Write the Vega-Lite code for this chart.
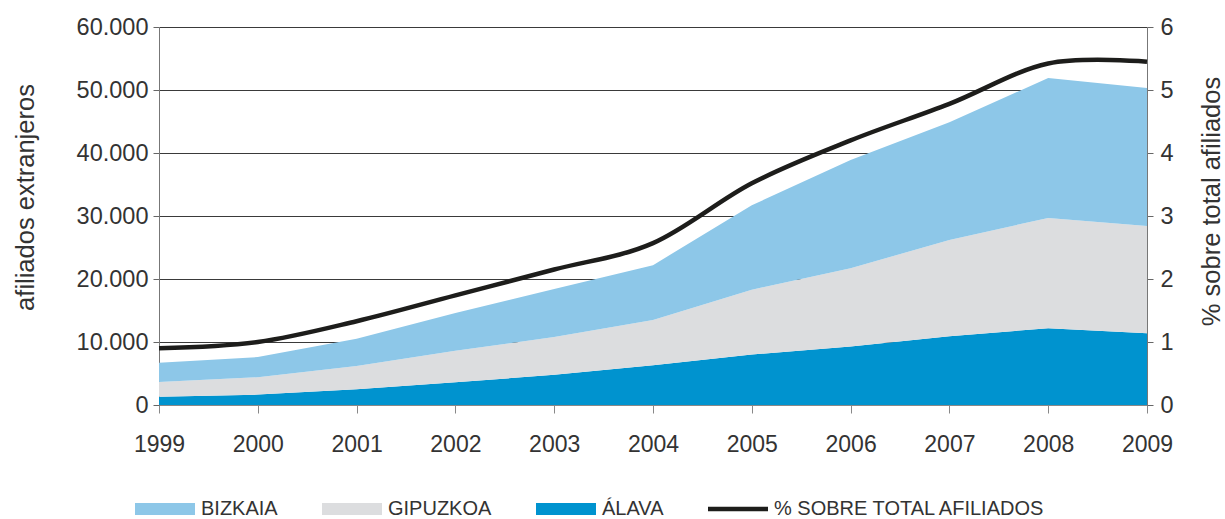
{
  "$schema": "https://vega.github.io/schema/vega-lite/v6.json",
  "width": 988,
  "height": 378,
  "autosize": "none",
  "padding": {"left": 159, "top": 27, "right": 78, "bottom": 114},
  "background": "white",
  "config": {
    "font": "Liberation Sans",
    "view": {"stroke": null},
    "axis": {"labelColor": "#333333", "titleColor": "#333333", "labelFont": "Liberation Sans", "titleFont": "Liberation Sans", "titleFontWeight": "normal"}
  },
  "datasets": {
    "afiliados": [
      {"anio": 1999, "territorio": "ÁLAVA", "afiliados": 1300},
      {"anio": 2000, "territorio": "ÁLAVA", "afiliados": 1650},
      {"anio": 2001, "territorio": "ÁLAVA", "afiliados": 2500},
      {"anio": 2002, "territorio": "ÁLAVA", "afiliados": 3600},
      {"anio": 2003, "territorio": "ÁLAVA", "afiliados": 4800},
      {"anio": 2004, "territorio": "ÁLAVA", "afiliados": 6300},
      {"anio": 2005, "territorio": "ÁLAVA", "afiliados": 8000},
      {"anio": 2006, "territorio": "ÁLAVA", "afiliados": 9300},
      {"anio": 2007, "territorio": "ÁLAVA", "afiliados": 10900},
      {"anio": 2008, "territorio": "ÁLAVA", "afiliados": 12200},
      {"anio": 2009, "territorio": "ÁLAVA", "afiliados": 11400},
      {"anio": 1999, "territorio": "GIPUZKOA", "afiliados": 2350},
      {"anio": 2000, "territorio": "GIPUZKOA", "afiliados": 2750},
      {"anio": 2001, "territorio": "GIPUZKOA", "afiliados": 3700},
      {"anio": 2002, "territorio": "GIPUZKOA", "afiliados": 5000},
      {"anio": 2003, "territorio": "GIPUZKOA", "afiliados": 6000},
      {"anio": 2004, "territorio": "GIPUZKOA", "afiliados": 7200},
      {"anio": 2005, "territorio": "GIPUZKOA", "afiliados": 10300},
      {"anio": 2006, "territorio": "GIPUZKOA", "afiliados": 12400},
      {"anio": 2007, "territorio": "GIPUZKOA", "afiliados": 15300},
      {"anio": 2008, "territorio": "GIPUZKOA", "afiliados": 17500},
      {"anio": 2009, "territorio": "GIPUZKOA", "afiliados": 17000},
      {"anio": 1999, "territorio": "BIZKAIA", "afiliados": 3050},
      {"anio": 2000, "territorio": "BIZKAIA", "afiliados": 3200},
      {"anio": 2001, "territorio": "BIZKAIA", "afiliados": 4300},
      {"anio": 2002, "territorio": "BIZKAIA", "afiliados": 6000},
      {"anio": 2003, "territorio": "BIZKAIA", "afiliados": 7600},
      {"anio": 2004, "territorio": "BIZKAIA", "afiliados": 8700},
      {"anio": 2005, "territorio": "BIZKAIA", "afiliados": 13400},
      {"anio": 2006, "territorio": "BIZKAIA", "afiliados": 17200},
      {"anio": 2007, "territorio": "BIZKAIA", "afiliados": 18700},
      {"anio": 2008, "territorio": "BIZKAIA", "afiliados": 22200},
      {"anio": 2009, "territorio": "BIZKAIA", "afiliados": 21900}
    ],
    "porcentaje": [
      {"anio": 1999, "pct": 0.9},
      {"anio": 2000, "pct": 1.0},
      {"anio": 2001, "pct": 1.33},
      {"anio": 2002, "pct": 1.74},
      {"anio": 2003, "pct": 2.15},
      {"anio": 2004, "pct": 2.57},
      {"anio": 2005, "pct": 3.52},
      {"anio": 2006, "pct": 4.2},
      {"anio": 2007, "pct": 4.78},
      {"anio": 2008, "pct": 5.42},
      {"anio": 2009, "pct": 5.45}
    ]
  },
  "layer": [
    {
      "data": {"name": "afiliados"},
      "mark": {"type": "area", "interpolate": "linear"},
      "encoding": {
        "x": {
          "field": "anio", "type": "quantitative",
          "scale": {"domain": [1999, 2009], "nice": false, "zero": false},
          "axis": {
            "title": null, "values": [1999, 2000, 2001, 2002, 2003, 2004, 2005, 2006, 2007, 2008, 2009],
            "format": "d", "labelFontSize": 23, "labelPadding": 20, "tickSize": 8,
            "tickColor": "#888888", "domainColor": "#888888", "grid": false, "labelFlush": false
          }
        },
        "y": {
          "field": "afiliados", "type": "quantitative", "stack": "zero",
          "scale": {"domain": [0, 60000], "nice": false},
          "axis": {
            "title": "afiliados extranjeros", "titleFontSize": 25.5, "titleX": -134, "titleY": 170, "titleAngle": -90, "titleBaseline": "middle", "titleAlign": "center",
            "values": [0, 10000, 20000, 30000, 40000, 50000, 60000],
            "labelExpr": "replace(format(datum.value, ',d'), ',', '.')",
            "labelFontSize": 23.5, "labelPadding": 5, "tickSize": 6, "tickColor": "#666666",
            "domainColor": "#777777", "grid": true, "gridColor": "#3a3a3a", "gridWidth": 1
          }
        },
        "color": {
          "field": "territorio", "type": "nominal",
          "scale": {
            "domain": ["BIZKAIA", "GIPUZKOA", "ÁLAVA", "% SOBRE TOTAL AFILIADOS"],
            "range": ["#8DC7E8", "#DCDDDF", "#0093CF", "#1D1D1B"]
          },
          "legend": {
            "title": null, "orient": "none", "direction": "horizontal", "columns": 4,
            "legendX": -24, "legendY": 452, "padding": 0,
            "symbolSize": 3600, "symbolType": "M-1,-0.2H1V0.2H-1Z", "symbolStrokeWidth": 0,
            "labelFontSize": 20, "labelColor": "#333333", "labelOffset": 6, "columnPadding": 44,
            "labelFont": "Liberation Sans", "labelLimit": 0,
            "encode": {
              "symbols": {
                "update": {
                  "shape": {"signal": "datum.value === '% SOBRE TOTAL AFILIADOS' ? 'M-1,-0.075H1V0.075H-1Z' : 'M-1,-0.2H1V0.2H-1Z'"}
                }
              }
            }
          }
        },
        "order": {"field": "territorio", "sort": "descending"}
      }
    },
    {
      "data": {"name": "porcentaje"},
      "mark": {"type": "line", "interpolate": "cardinal", "color": "#1D1D1B", "strokeWidth": 4.5},
      "encoding": {
        "x": {"field": "anio", "type": "quantitative"},
        "y": {
          "field": "pct", "type": "quantitative",
          "scale": {"domain": [0, 6], "nice": false},
          "axis": {
            "orient": "right", "title": "% sobre total afiliados", "titleFontSize": 25.5,
            "titleX": 64, "titleY": 174, "titleAngle": -90, "titleBaseline": "middle", "titleAlign": "center",
            "values": [0, 1, 2, 3, 4, 5, 6], "format": "d",
            "labelFontSize": 23.5, "labelPadding": 7, "tickSize": 6, "tickColor": "#666666",
            "domainColor": "#777777", "grid": false
          }
        }
      }
    }
  ],
  "resolve": {"scale": {"y": "independent"}}
}
